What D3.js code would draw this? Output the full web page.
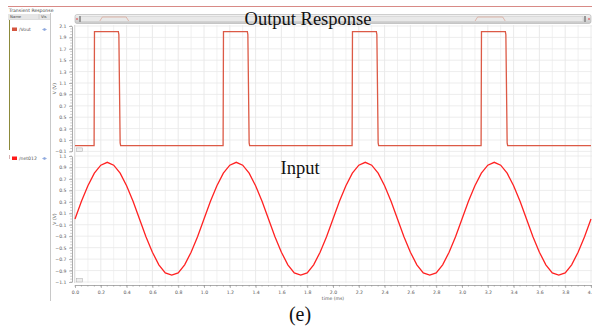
<!DOCTYPE html>
<html><head><meta charset="utf-8">
<script src="https://cdn.jsdelivr.net/npm/d3@7"></script>
<style>body{margin:0;background:#fff}svg{display:block}</style>
</head><body>
<svg id="c" width="592" height="329"></svg>
<script>
// ---- data ----
const xTickValues = [0.0,0.2,0.4,0.6,0.8,1.0,1.2,1.4,1.6,1.8,2.0,2.2,2.4,2.6,2.8,3.0,3.2,3.4,3.6,3.8,4.0];
const topYTickValues = [2.1,1.9,1.7,1.5,1.3,1.1,0.9,0.7,0.5,0.3,0.1,-0.1];
const botYTickValues = [1.1,0.9,0.7,0.5,0.3,0.1,-0.1,-0.3,-0.5,-0.7,-0.9,-1.1];

// Output (/Vout) : time (ms), voltage (V)
const voutTime = [0,0.148,0.151,0.336,0.340,0.350,0.354,
                  1.148,1.151,1.336,1.340,1.350,1.354,
                  2.148,2.151,2.336,2.340,2.350,2.354,
                  3.148,3.151,3.336,3.340,3.350,3.354,4.0];
const voutValue = [0,0,2.0,2.0,1.95,0.05,0,
                   0,2.0,2.0,1.95,0.05,0,
                   0,2.0,2.0,1.95,0.05,0,
                   0,2.0,2.0,1.95,0.05,0,0];

// Input (/net012) : sampled every 0.05 ms
const inputTime = [0,0.05,0.1,0.15,0.2,0.25,0.3,0.35,0.4,0.45,0.5,0.55,0.6,0.65,0.7,0.75,0.8,0.85,0.9,0.95,
  1,1.05,1.1,1.15,1.2,1.25,1.3,1.35,1.4,1.45,1.5,1.55,1.6,1.65,1.7,1.75,1.8,1.85,1.9,1.95,
  2,2.05,2.1,2.15,2.2,2.25,2.3,2.35,2.4,2.45,2.5,2.55,2.6,2.65,2.7,2.75,2.8,2.85,2.9,2.95,
  3,3.05,3.1,3.15,3.2,3.25,3.3,3.35,3.4,3.45,3.5,3.55,3.6,3.65,3.7,3.75,3.8,3.85,3.9,3.95,4.0];
const inputValue = [0,0.31,0.58,0.80,0.94,0.99,0.94,0.80,0.58,0.31,0,-0.31,-0.58,-0.80,-0.94,-0.98,-0.94,-0.80,-0.58,-0.31,
  0,0.31,0.58,0.80,0.94,0.99,0.94,0.80,0.58,0.31,0,-0.31,-0.58,-0.80,-0.94,-0.98,-0.94,-0.80,-0.58,-0.31,
  0,0.31,0.58,0.80,0.94,0.99,0.94,0.80,0.58,0.31,0,-0.31,-0.58,-0.80,-0.94,-0.98,-0.94,-0.80,-0.58,-0.31,
  0,0.31,0.58,0.80,0.94,0.99,0.94,0.80,0.58,0.31,0,-0.31,-0.58,-0.80,-0.94,-0.98,-0.94,-0.80,-0.58,-0.31,0];

const seriesNames = ["/Vout","/net012"];

// ---- drawing ----
const svg = d3.select("#c");
const small = "DejaVu Sans";
const serif = "Liberation Serif";

const x = d3.scaleLinear([0,4],[75,591]);
const yTop = d3.scaleLinear([-0.1,2.1],[151.4,26]);
const yBot = d3.scaleLinear([-1.1,1.1],[282,156]);

// top decorative red line
svg.append("line").attr("x1",8).attr("x2",592).attr("y1",6.5).attr("y2",6.5)
  .attr("stroke","#d88a86").attr("stroke-width",1);

// left panel
svg.append("text").attr("x",9).attr("y",12).attr("font-family",small).attr("font-size",4.6)
  .attr("fill","#444").text("Transient Response");
svg.append("rect").attr("x",8).attr("y",14).attr("width",42).attr("height",5).attr("fill","#e6e6e6");
svg.append("line").attr("x1",8).attr("x2",50).attr("y1",19.5).attr("y2",19.5).attr("stroke","#bbb").attr("stroke-width",0.5);
svg.append("line").attr("x1",39).attr("x2",39).attr("y1",14).attr("y2",19).attr("stroke","#bbb").attr("stroke-width",0.5);
svg.append("text").attr("x",10).attr("y",18).attr("font-family",small).attr("font-size",3.8).attr("fill","#444").text("Name");
svg.append("text").attr("x",41).attr("y",18).attr("font-family",small).attr("font-size",3.8).attr("fill","#444").text("Vis");
svg.append("line").attr("x1",50.5).attr("x2",50.5).attr("y1",13).attr("y2",301).attr("stroke","#c8c8c8").attr("stroke-width",1);
svg.append("line").attr("x1",9.5).attr("x2",9.5).attr("y1",20).attr("y2",150).attr("stroke","#8c8a3a").attr("stroke-width",1);
svg.append("line").attr("x1",9.5).attr("x2",9.5).attr("y1",155).attr("y2",159).attr("stroke","#c08080").attr("stroke-width",0.6);

const legendY = [29.5, 158.5];
const legendCol = ["#d4553f","#ff1a1a"];
seriesNames.forEach((n,i)=>{
  svg.append("rect").attr("x",12).attr("y",legendY[i]-2).attr("width",5).attr("height",3.5).attr("fill",legendCol[i]);
  svg.append("text").attr("x",19).attr("y",legendY[i]+1.6).attr("font-family",small).attr("font-size",4.6).attr("fill","#555").text(n);
  svg.append("circle").attr("cx",44.5).attr("cy",legendY[i]).attr("r",1.3).attr("fill","#7a9ad8");
  svg.append("line").attr("x1",42).attr("x2",47).attr("y1",legendY[i]).attr("y2",legendY[i]).attr("stroke","#9ab0e0").attr("stroke-width",0.6);
});

// scrollbar
const sg = svg.append("defs").append("linearGradient").attr("id","sb").attr("x1",0).attr("x2",0).attr("y1",0).attr("y2",1);
sg.append("stop").attr("offset","0%").attr("stop-color","#f4f4f4");
sg.append("stop").attr("offset","50%").attr("stop-color","#dcdcdc");
sg.append("stop").attr("offset","100%").attr("stop-color","#c8c8c8");
svg.append("rect").attr("x",75).attr("y",14.5).attr("width",516).attr("height",9).attr("rx",2)
  .attr("fill","url(#sb)").attr("stroke","#b0b0b0").attr("stroke-width",0.6);
svg.append("rect").attr("x",80).attr("y",16.5).attr("width",503).attr("height",5).attr("fill","#e9e9e9").attr("stroke","#c4c4c4").attr("stroke-width",0.4);
svg.append("rect").attr("x",79).attr("y",16).attr("width",2).attr("height",6).attr("fill","#999");
svg.append("rect").attr("x",584).attr("y",16).attr("width",2).attr("height",6).attr("fill","#999");
svg.append("circle").attr("cx",77).attr("cy",19).attr("r",0.8).attr("fill","#e03030");
svg.append("circle").attr("cx",589).attr("cy",19).attr("r",0.8).attr("fill","#e03030");
// mini-map of the output signal in the scrollbar
const mini = d3.scaleLinear([0,2],[21,17]);
const miniX = d3.scaleLinear([0,4],[81,583]);
const miniPulses = [[0.17,0.36],[3.16,3.36]];
miniPulses.forEach(p=>{
  svg.append("path").attr("fill","none").attr("stroke","#d9a090").attr("stroke-width",0.7)
   .attr("d",`M${miniX(p[0]-0.02)},${mini(0)}L${miniX(p[0])},${mini(2)}L${miniX(p[1])},${mini(2)}L${miniX(p[1]+0.02)},${mini(0)}`);
});

// grid
const gGrid = svg.append("g");
d3.range(0,4.001,0.1).forEach((t,i)=>{
  gGrid.append("line").attr("x1",x(t)).attr("x2",x(t)).attr("y1",25).attr("y2",283)
    .attr("stroke", i%2===0 ? "#e4e4e4" : "#eeeeee").attr("stroke-width",0.8);
});
topYTickValues.forEach(v=>{
  gGrid.append("line").attr("x1",75).attr("x2",592).attr("y1",yTop(v)).attr("y2",yTop(v)).attr("stroke","#e8e8e8").attr("stroke-width",0.8);
});
botYTickValues.forEach(v=>{
  gGrid.append("line").attr("x1",75).attr("x2",592).attr("y1",yBot(v)).attr("y2",yBot(v)).attr("stroke","#e8e8e8").attr("stroke-width",0.8);
});
svg.append("line").attr("x1",74.5).attr("x2",74.5).attr("y1",25).attr("y2",283).attr("stroke","#d8d8d8").attr("stroke-width",0.8);

// axes
function styleAxis(g){
  g.select(".domain").attr("stroke","#888").attr("stroke-width",0.7);
  g.selectAll(".tick line").attr("stroke","#888").attr("stroke-width",0.6);
  g.selectAll("text").attr("font-family",small).attr("font-size",4.6).attr("fill","#555");
}
function minorLeft(scale,lo,hi){
  const g = svg.append("g").attr("transform","translate(72,0)");
  d3.range(lo,hi+0.0001,0.05).forEach(v=>{
    g.append("line").attr("x1",-1.8).attr("x2",0).attr("y1",scale(v)).attr("y2",scale(v)).attr("stroke","#999").attr("stroke-width",0.5);
  });
}
minorLeft(yTop,-0.1,2.1);
minorLeft(yBot,-1.1,1.1);
const ayTop = svg.append("g").attr("transform","translate(72,0)")
  .call(d3.axisLeft(yTop).tickValues(topYTickValues).tickFormat(d3.format(".1f")).tickSize(3).tickPadding(2.5).tickSizeOuter(0));
styleAxis(ayTop);
const ayBot = svg.append("g").attr("transform","translate(72,0)")
  .call(d3.axisLeft(yBot).tickValues(botYTickValues).tickFormat(d3.format(".1f")).tickSize(3).tickPadding(2.5).tickSizeOuter(0));
styleAxis(ayBot);

const gMinX = svg.append("g").attr("transform","translate(0,285)");
d3.range(0,4.001,0.05).forEach(t=>{
  gMinX.append("line").attr("x1",x(t)).attr("x2",x(t)).attr("y1",0).attr("y2",1.8).attr("stroke","#999").attr("stroke-width",0.5);
});
const ax = svg.append("g").attr("transform","translate(0,285)")
  .call(d3.axisBottom(x).tickValues(xTickValues).tickFormat(d3.format(".1f")).tickSize(3).tickPadding(2.5).tickSizeOuter(0));
styleAxis(ax);

// axis labels
svg.append("text").attr("x",333).attr("y",299.5).attr("text-anchor","middle").attr("font-family",small)
  .attr("font-size",4.6).attr("fill","#555").text("time (ms)");
[[yTop,1.0],[yBot,0.0]].forEach(([s,v])=>{
  svg.append("text").attr("transform",`translate(56,${s(v)}) rotate(-90)`).attr("text-anchor","middle")
    .attr("font-family",small).attr("font-size",4.6).attr("fill","#555").text("V (V)");
});

// small corner icons
[[yTop,-0.1],[yBot,-1.1]].forEach(([s,v])=>{
  svg.append("rect").attr("x",76.5).attr("y",s(v)-3.5).attr("width",6).attr("height",3.5)
    .attr("fill","#eee").attr("stroke","#aaa").attr("stroke-width",0.5);
});

// series
const voutLine = d3.line().x((d,i)=>x(voutTime[i])).y(d=>yTop(d));
svg.append("path").datum(voutValue).attr("d",voutLine).attr("fill","none")
  .attr("stroke","#dc5a46").attr("stroke-width",1.3);
const inLine = d3.line().x((d,i)=>x(inputTime[i])).y(d=>yBot(d));
svg.append("path").datum(inputValue).attr("d",inLine).attr("fill","none")
  .attr("stroke","#ff2222").attr("stroke-width",1.3);

// titles
svg.append("text").attr("x",308).attr("y",25).attr("text-anchor","middle").attr("font-family",serif)
  .attr("font-size",18.5).attr("fill","#111").text("Output Response");
svg.append("text").attr("x",300).attr("y",174).attr("text-anchor","middle").attr("font-family",serif)
  .attr("font-size",18.5).attr("fill","#111").text("Input");
svg.append("text").attr("x",300).attr("y",321).attr("text-anchor","middle").attr("font-family",serif)
  .attr("font-size",20).attr("fill","#111").text("(e)");
</script>
</body></html>
